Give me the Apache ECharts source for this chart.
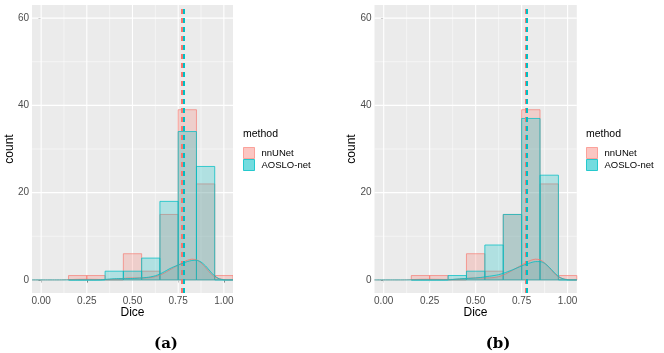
<!DOCTYPE html>
<html><head><meta charset="utf-8">
<script src="https://cdn.jsdelivr.net/npm/echarts@6/dist/echarts.min.js"></script>
<style>html,body{margin:0;padding:0;background:#fff}#c{width:664px;height:353px}</style>
</head><body><div id="c"></div>
<script>
// ---------- data ----------
const binCenters = [0.2, 0.3, 0.4, 0.5, 0.6, 0.7, 0.8, 0.9, 1.0];
const binWidth = 0.1;
const nnunetA = [1, 1, 0, 6, 2, 15, 39, 22, 1];
const aosloA  = [0, 0, 2, 2, 5, 18, 34, 26, 0];
const nnunetB = [1, 1, 0, 6, 2, 15, 39, 22, 1];
const aosloB  = [0, 0, 1, 2, 8, 15, 37, 24, 0];

const densX = [-0.05, 0.1, 0.125, 0.15, 0.175, 0.2, 0.225, 0.25, 0.275, 0.3, 0.325, 0.35, 0.375, 0.4, 0.425, 0.45, 0.475, 0.5, 0.525, 0.55, 0.575, 0.6, 0.625, 0.65, 0.675, 0.7, 0.725, 0.75, 0.775, 0.8, 0.825, 0.85, 0.875, 0.9, 0.925, 0.95, 0.975, 1.0, 1.025, 1.05];
const densNnunet = [0, 0, 0.02, 0.06, 0.1, 0.13, 0.14, 0.14, 0.13, 0.12, 0.1, 0.1, 0.12, 0.18, 0.26, 0.35, 0.42, 0.45, 0.45, 0.45, 0.47, 0.55, 0.75, 1.1, 1.6, 2.2, 2.8, 3.4, 4.0, 4.5, 4.75, 4.6, 3.9, 2.8, 1.6, 0.7, 0.25, 0.08, 0.02, 0];
const densAosloA  = [0, 0, 0, 0, 0, 0, 0, 0, 0, 0, 0.02, 0.1, 0.2, 0.27, 0.3, 0.3, 0.3, 0.32, 0.38, 0.45, 0.55, 0.7, 0.95, 1.35, 1.9, 2.5, 3.0, 3.4, 3.8, 4.2, 4.45, 4.5, 4.1, 3.2, 2.0, 0.9, 0.25, 0.03, 0, 0];
const densAosloB  = [0, 0, 0, 0, 0, 0, 0, 0, 0, 0, 0, 0.02, 0.1, 0.2, 0.28, 0.33, 0.38, 0.45, 0.55, 0.7, 0.85, 1.0, 1.2, 1.5, 1.9, 2.3, 2.75, 3.2, 3.6, 3.95, 4.2, 4.2, 3.8, 2.9, 1.8, 0.8, 0.25, 0.03, 0, 0];

const meanA = {nnUNet: 0.767, AOSLO: 0.779};
const meanB = {nnUNet: 0.772, AOSLO: 0.777};

const xTicks = [0, 0.25, 0.5, 0.75, 1.0];
const xMinor = [0.125, 0.375, 0.625, 0.875];
const yTicks = [0, 20, 40, 60];
const yMinor = [10, 30, 50];
const xTickLabels = ['0.00', '0.25', '0.50', '0.75', '1.00'];
const methods = ['nnUNet', 'AOSLO-net'];

// ---------- styles ----------
const RED = '#F8766D', TEAL = '#00BFC4';
const redFill = 'rgba(248,118,109,0.25)', tealFill = 'rgba(0,191,196,0.25)';
const redStroke = 'rgba(248,118,109,0.65)', tealStroke = 'rgba(0,191,196,0.75)';
const FONT = 'Liberation Sans, Arial, sans-serif';

const grids = [
  {left: 32, top: 5, width: 201, height: 288},
  {left: 374.5, top: 5, width: 202.3, height: 288}
];

function axisPair(i) {
  const x = {
    type: 'value', gridIndex: i, min: -0.05, max: 1.05,
    axisLine: {show: false},
    axisTick: {show: true, length: 2.7, lineStyle: {color: '#333', width: 1}, customValues: xTicks},
    axisLabel: {show: true, customValues: xTicks, margin: 3, color: '#4D4D4D', fontSize: 10, fontFamily: FONT,
      formatter: v => xTickLabels[xTicks.findIndex(t => Math.abs(t - v) < 1e-9)] || ''},
    splitLine: {show: false}
  };
  const y = {
    type: 'value', gridIndex: i, min: -3, max: 63,
    axisLine: {show: false},
    axisTick: {show: true, length: 2.7, lineStyle: {color: '#333', width: 1}, customValues: yTicks},
    axisLabel: {show: true, customValues: yTicks, margin: 3, color: '#4D4D4D', fontSize: 10, fontFamily: FONT},
    splitLine: {show: false}
  };
  return [x, y];
}

const xAxes = [], yAxes = [];
[0, 1].forEach(i => { const p = axisPair(i); xAxes.push(p[0]); yAxes.push(p[1]); });

function gridLineSeries(i, vals, vertical, width) {
  return {
    type: 'custom', xAxisIndex: i, yAxisIndex: i, z: 1, silent: true, animation: false,
    data: vals.map(v => vertical ? [v, 0] : [0, v]),
    renderItem: function (params, api) {
      const cs = params.coordSys;
      if (vertical) {
        const px = api.coord([api.value(0), 0])[0];
        return {type: 'line', shape: {x1: px, y1: cs.y, x2: px, y2: cs.y + cs.height}, style: {stroke: '#fff', lineWidth: width}};
      } else {
        const py = api.coord([0, api.value(1)])[1];
        return {type: 'line', shape: {x1: cs.x, y1: py, x2: cs.x + cs.width, y2: py}, style: {stroke: '#fff', lineWidth: width}};
      }
    }
  };
}

function histSeries(i, name, counts, fill, stroke, z) {
  return {
    type: 'custom', name: name, xAxisIndex: i, yAxisIndex: i, z: z, animation: false, clip: true,
    data: binCenters.map((c, k) => [c, counts[k]]),
    renderItem: function (params, api) {
      const c = api.value(0), v = api.value(1);
      const p0 = api.coord([c - binWidth / 2, v]);
      const p1 = api.coord([c + binWidth / 2, 0]);
      return {type: 'rect', shape: {x: p0[0], y: p0[1], width: p1[0] - p0[0], height: p1[1] - p0[1]},
        style: {fill: fill, stroke: stroke, lineWidth: 1}};
    }
  };
}

function densSeries(i, name, dens, color, fillColor, z, mean) {
  return {
    type: 'line', name: name, xAxisIndex: i, yAxisIndex: i, z: z, animation: false,
    data: densX.map((x, k) => [x, dens[k]]),
    smooth: 0.25, showSymbol: false, symbol: 'none',
    lineStyle: {color: color, width: 0.8},
    areaStyle: {color: fillColor, origin: 0},
    markLine: {
      silent: true, symbol: ['none', 'none'], animation: false,
      label: {show: false},
      lineStyle: {color: color, type: [5, 4], width: 2, opacity: 1},
      emphasis: {disabled: true},
      data: [{xAxis: mean}]
    }
  };
}

const series = [];
[0, 1].forEach(i => {
  series.push(gridLineSeries(i, xMinor, true, 0.5));
  series.push(gridLineSeries(i, yMinor, false, 0.5));
  series.push(gridLineSeries(i, xTicks, true, 1.1));
  series.push(gridLineSeries(i, yTicks, false, 1.1));
});
series.push(histSeries(0, methods[0], nnunetA, redFill, redStroke, 2));
series.push(histSeries(0, methods[1], aosloA, tealFill, tealStroke, 3));
series.push(densSeries(0, methods[0], densNnunet, RED, 'rgba(248,118,109,0.22)', 4, meanA.nnUNet));
series.push(densSeries(0, methods[1], densAosloA, TEAL, 'rgba(0,191,196,0.22)', 5, meanA.AOSLO));
series.push(histSeries(1, methods[0], nnunetB, redFill, redStroke, 2));
series.push(histSeries(1, methods[1], aosloB, tealFill, tealStroke, 3));
series.push(densSeries(1, methods[0], densNnunet, RED, 'rgba(248,118,109,0.22)', 4, meanB.nnUNet));
series.push(densSeries(1, methods[1], densAosloB, TEAL, 'rgba(0,191,196,0.22)', 5, meanB.AOSLO));

function legendAt(left) {
  return {
    left: left, top: 147, orient: 'vertical', itemWidth: 11, itemHeight: 11, itemGap: 0, padding: 0,
    selectedMode: false, icon: 'rect',
    textStyle: {fontSize: 9.5, color: '#000', fontFamily: FONT, padding: [0, 0, 0, 2]},
    data: [
      {name: methods[0], icon: 'rect', itemStyle: {color: 'rgba(248,118,109,0.42)', borderColor: 'rgba(248,118,109,0.6)', borderWidth: 1}},
      {name: methods[1], icon: 'rect', itemStyle: {color: 'rgba(0,191,196,0.55)', borderColor: 'rgba(0,191,196,0.8)', borderWidth: 1}}
    ]
  };
}

function txt(x, y, text, size, opts) {
  return Object.assign({type: 'text', x: x, y: y, silent: true,
    style: Object.assign({text: text, fontSize: size, fontFamily: FONT, fill: '#000', align: 'center', verticalAlign: 'middle'}, (opts && opts.style) || {})},
    (opts && opts.extra) || {});
}

const option = {
  animation: false,
  backgroundColor: '#fff',
  grid: grids.map(g => Object.assign({show: true, backgroundColor: '#EBEBEB', borderWidth: 0, containLabel: false}, g)),
  xAxis: xAxes,
  yAxis: yAxes,
  legend: [legendAt(243), legendAt(586)],
  series: series,
  graphic: [
    txt(10, 149, 'count', 12, {extra: {rotation: Math.PI / 2}}),
    txt(352, 149, 'count', 12, {extra: {rotation: Math.PI / 2}}),
    txt(132.5, 313, 'Dice', 12),
    txt(475.5, 313, 'Dice', 12),
    txt(243, 134, 'method', 10.5, {style: {align: 'left'}}),
    txt(586, 134, 'method', 10.5, {style: {align: 'left'}}),
    txt(166, 344, '(a)', 15, {style: {fontFamily: 'DejaVu Serif, serif', fontWeight: 'bold'}}),
    txt(498, 344, '(b)', 15, {style: {fontFamily: 'DejaVu Serif, serif', fontWeight: 'bold'}})
  ]
};

const chart = echarts.init(document.getElementById('c'), null, {renderer: 'canvas'});
chart.setOption(option);
</script>
</body></html>
